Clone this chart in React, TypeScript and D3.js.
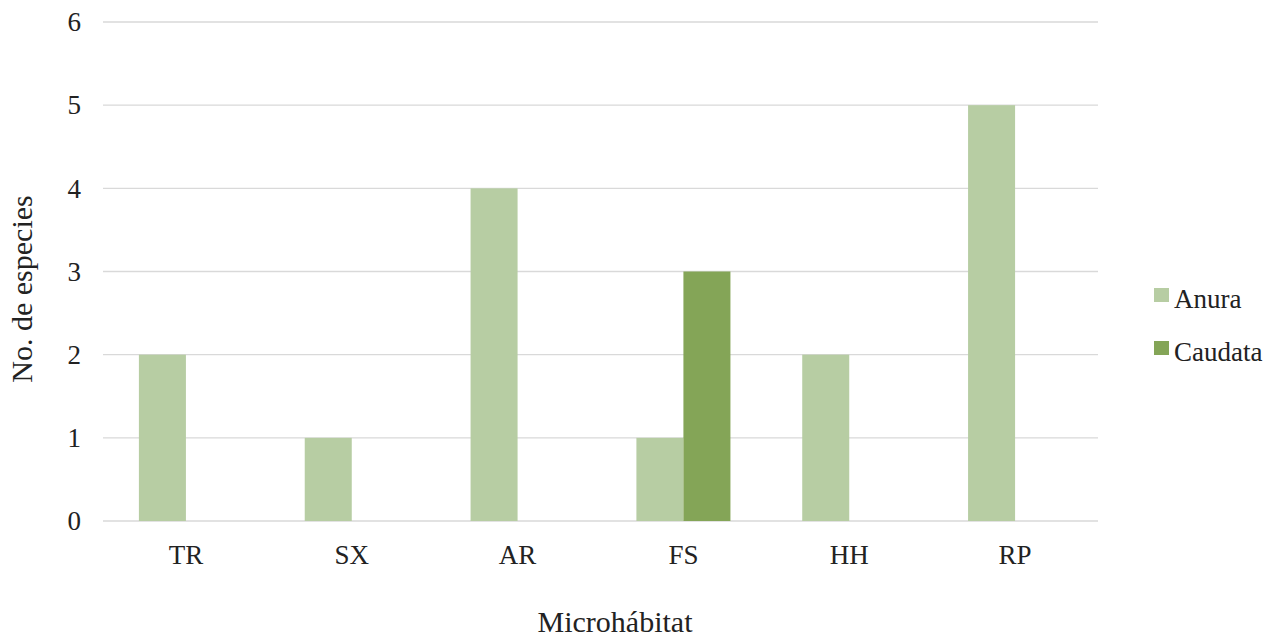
import React, { useEffect, useRef } from "react";
import * as d3 from "d3";

const categories = ["TR", "SX", "AR", "FS", "HH", "RP"];
const seriesNames = ["Anura", "Caudata"];
const anura = [2, 1, 4, 1, 2, 5];
const caudata = [0, 0, 0, 3, 0, 0];
const yTicks = [0, 1, 2, 3, 4, 5, 6];
const colors = ["#b7cda3", "#84a557"];

const W = 1266;
const H = 638;
const FONT = "Liberation Serif, Times New Roman, Times, serif";

export default function App() {
  const ref = useRef<SVGSVGElement | null>(null);

  useEffect(() => {
    const svg = d3.select(ref.current);
    svg.selectAll("*").remove();

    const left = 103;
    const right = 1098;
    const top = 22;
    const bottom = 521;

    const x0 = d3.scaleBand<string>().domain(categories).range([left, right]);
    const groupW = x0.bandwidth() * 0.567;
    const x1 = d3.scaleBand<string>().domain(seriesNames).range([0, groupW]);
    const y = d3.scaleLinear().domain([0, 6]).range([bottom, top]);

    // grid lines
    svg
      .append("g")
      .selectAll("line")
      .data(yTicks)
      .join("line")
      .attr("x1", left)
      .attr("x2", right)
      .attr("y1", (d) => y(d))
      .attr("y2", (d) => y(d))
      .attr("stroke", "#d9d9d9")
      .attr("stroke-width", 1.3);

    // y tick labels
    svg
      .append("g")
      .selectAll("text")
      .data(yTicks)
      .join("text")
      .attr("x", 81)
      .attr("y", (d) => y(d))
      .attr("dy", "0.34em")
      .attr("text-anchor", "end")
      .style("font-family", FONT)
      .attr("font-size", 27)
      .attr("fill", "#222")
      .text((d) => String(d));

    const rows = categories.map((c, i) => ({ cat: c, values: [anura[i], caudata[i]] }));

    const groups = svg
      .append("g")
      .selectAll("g")
      .data(rows)
      .join("g")
      .attr("transform", (d) => `translate(${(x0(d.cat) ?? 0) + x0.bandwidth() / 2 - groupW / 2},0)`);

    groups
      .selectAll("rect")
      .data((d) => d.values.map((v, j) => ({ name: seriesNames[j], v, j })))
      .join("rect")
      .attr("x", (d) => x1(d.name) ?? 0)
      .attr("width", x1.bandwidth())
      .attr("y", (d) => y(d.v))
      .attr("height", (d) => y(0) - y(d.v))
      .attr("fill", (d) => colors[d.j]);

    // category labels
    svg
      .append("g")
      .selectAll("text")
      .data(categories)
      .join("text")
      .attr("x", (d) => (x0(d) ?? 0) + x0.bandwidth() / 2)
      .attr("y", 564)
      .attr("text-anchor", "middle")
      .style("font-family", FONT)
      .attr("font-size", 27)
      .attr("fill", "#222")
      .text((d) => d);

    // axis titles
    svg
      .append("text")
      .attr("x", 615)
      .attr("y", 632)
      .attr("text-anchor", "middle")
      .style("font-family", FONT)
      .attr("font-size", 30)
      .attr("fill", "#222")
      .text("Microhábitat");

    svg
      .append("text")
      .attr("transform", "translate(32,289) rotate(-90)")
      .attr("text-anchor", "middle")
      .style("font-family", FONT)
      .attr("font-size", 30)
      .attr("fill", "#222")
      .text("No. de especies");

    // legend
    const legend = svg
      .append("g")
      .selectAll("g")
      .data(seriesNames)
      .join("g")
      .attr("transform", (_d, i) => `translate(1154,${288 + i * 53})`);
    legend
      .append("rect")
      .attr("width", 15)
      .attr("height", 14)
      .attr("fill", (_d, i) => colors[i]);
    legend
      .append("text")
      .attr("x", 20)
      .attr("y", 20)
      .style("font-family", FONT)
      .attr("font-size", 27)
      .attr("fill", "#222")
      .text((d) => d);
  }, []);

  return (
    <div style={{ position: "absolute", left: 0, top: 0, width: W, height: H }}>
      <svg ref={ref} width={W} height={H} style={{ display: "block" }} />
    </div>
  );
}
